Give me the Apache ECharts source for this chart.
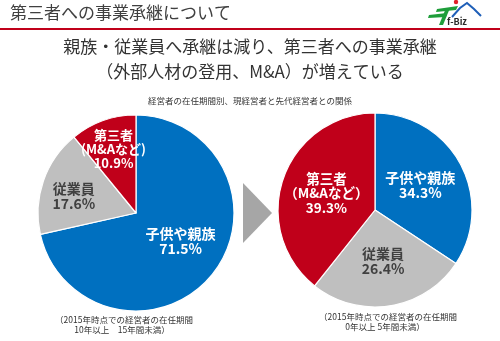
<!DOCTYPE html>
<html>
<head>
<meta charset="utf-8">
<script src="https://cdn.jsdelivr.net/npm/echarts@6/dist/echarts.min.js"></script>
<style>
  html, body { margin: 0; padding: 0; background: #fff; }
  #chart { width: 500px; height: 341px; }
</style>
</head>
<body>
<div id="chart"></div>
<script>
// Successor relationship shares, by current owner's tenure
const leftNames = ['子供や親族', '従業員', '第三者\n(M&Aなど)'];
const leftValues = [71.5, 17.6, 10.9];
const rightNames = ['子供や親族', '従業員', '第三者\n（M&Aなど）'];
const rightValues = [34.3, 26.4, 39.3];

const pageTitle = '第三者への事業承継について';
const headline = ['親族・従業員へ承継は減り、第三者への事業承継', '（外部人材の登用、M&A）が増えている'];
const caption = '経営者の在任期間別、現経営者と先代経営者との関係';
const leftNote = ['（2015年時点での経営者の在任期間', '10年以上　15年間未満）'];
const rightNote = ['（2015年時点での経営者の在任期間', '0年以上 5年間未満）'];

const sliceColors = ['#0070C0', '#BFBFBF', '#C0001A'];
const labelColors = ['#ffffff', '#404040', '#ffffff'];
const FONT = '"Noto Sans CJK JP", "Noto Sans", sans-serif';

// extra nudges for the small slices of the left pie
const leftLabelShift = [[4, -4], [-13, 0], [-5, -15]];
const leftLabelSize = [14, 14, 13];
const rightLabelSize = [14, 14, 13.5];

function buildData(names, values, sizes) {
  return names.map((n, i) => ({
    name: n,
    value: values[i],
    itemStyle: { color: sliceColors[i] },
    label: { color: labelColors[i], fontSize: sizes[i], lineHeight: sizes[i] + 1 }
  }));
}

const pieBase = {
  type: 'pie',
  startAngle: 90,
  clockwise: true,
  animation: false,
  silent: true,
  itemStyle: { borderColor: '#ffffff', borderWidth: 1.2 },
  label: {
    position: 'inside',
    formatter: p => p.name + '\n' + p.value.toFixed(1) + '%',
    fontFamily: FONT,
    fontWeight: 'bold',
    fontSize: 14,
    lineHeight: 15,
    align: 'center'
  },
  labelLine: { show: false }
};

const chart = echarts.init(document.getElementById('chart'), null, { renderer: 'canvas' });

chart.setOption({
  backgroundColor: '#ffffff',
  series: [
    Object.assign({}, pieBase, {
      center: [136, 213],
      radius: 98,
      data: buildData(leftNames, leftValues, leftLabelSize),
      labelLayout: p => ({ dx: leftLabelShift[p.dataIndex][0], dy: leftLabelShift[p.dataIndex][1] })
    }),
    Object.assign({}, pieBase, {
      center: [375, 210],
      radius: 97,
      data: buildData(rightNames, rightValues, rightLabelSize)
    })
  ],
  graphic: [
    // page header
    { type: 'text', left: 10, top: 4, style: { text: pageTitle, fill: '#404040', font: '17px ' + FONT } },
    { type: 'rect', shape: { x: 0, y: 28, width: 500, height: 2 }, style: { fill: '#C0001A' } },
    // logo
    { type: 'polygon', shape: { points: [[437, 9], [458, 6], [456, 10], [436, 12]] }, style: { fill: '#1E9E3A' } },
    { type: 'polygon', shape: { points: [[429, 15], [447, 13], [446, 17], [428, 18]] }, style: { fill: '#1E9E3A' } },
    { type: 'polygon', shape: { points: [[446, 8], [450, 8], [443, 25], [439, 25]] }, style: { fill: '#1E9E3A' } },
    { type: 'polyline', shape: { points: [[452, 17], [460, 8], [467, 3], [474, 9], [481, 16]] }, style: { stroke: '#1F5FB8', lineWidth: 2, fill: null } },
    { type: 'circle', shape: { cx: 456, cy: 2, r: 2.2 }, style: { fill: '#E0202A' } },
    { type: 'text', left: 447, top: 17, style: { text: 'f-Biz', fill: '#2a2a2a', font: 'bold 9px ' + FONT } },
    // headline
    { type: 'text', left: 'center', top: 38, style: { text: headline[0], fill: '#333333', font: '17px ' + FONT } },
    { type: 'text', left: 'center', top: 63, style: { text: headline[1], fill: '#333333', font: '17px ' + FONT } },
    { type: 'text', left: 'center', top: 97, style: { text: caption, fill: '#333333', font: '8.5px ' + FONT } },
    // arrow between the pies
    { type: 'polygon', shape: { points: [[243, 183], [272, 213], [243, 243]] }, style: { fill: '#A6A6A6' } },
    // notes below each pie
    { type: 'text', x: 124, y: 316, style: { text: leftNote[0], fill: '#333333', font: '8.5px ' + FONT, align: 'center' } },
    { type: 'text', x: 122, y: 326, style: { text: leftNote[1], fill: '#333333', font: '8.5px ' + FONT, align: 'center' } },
    { type: 'text', x: 388, y: 313, style: { text: rightNote[0], fill: '#333333', font: '8.5px ' + FONT, align: 'center' } },
    { type: 'text', x: 385, y: 323, style: { text: rightNote[1], fill: '#333333', font: '8.5px ' + FONT, align: 'center' } }
  ]
});
</script>
</body>
</html>
